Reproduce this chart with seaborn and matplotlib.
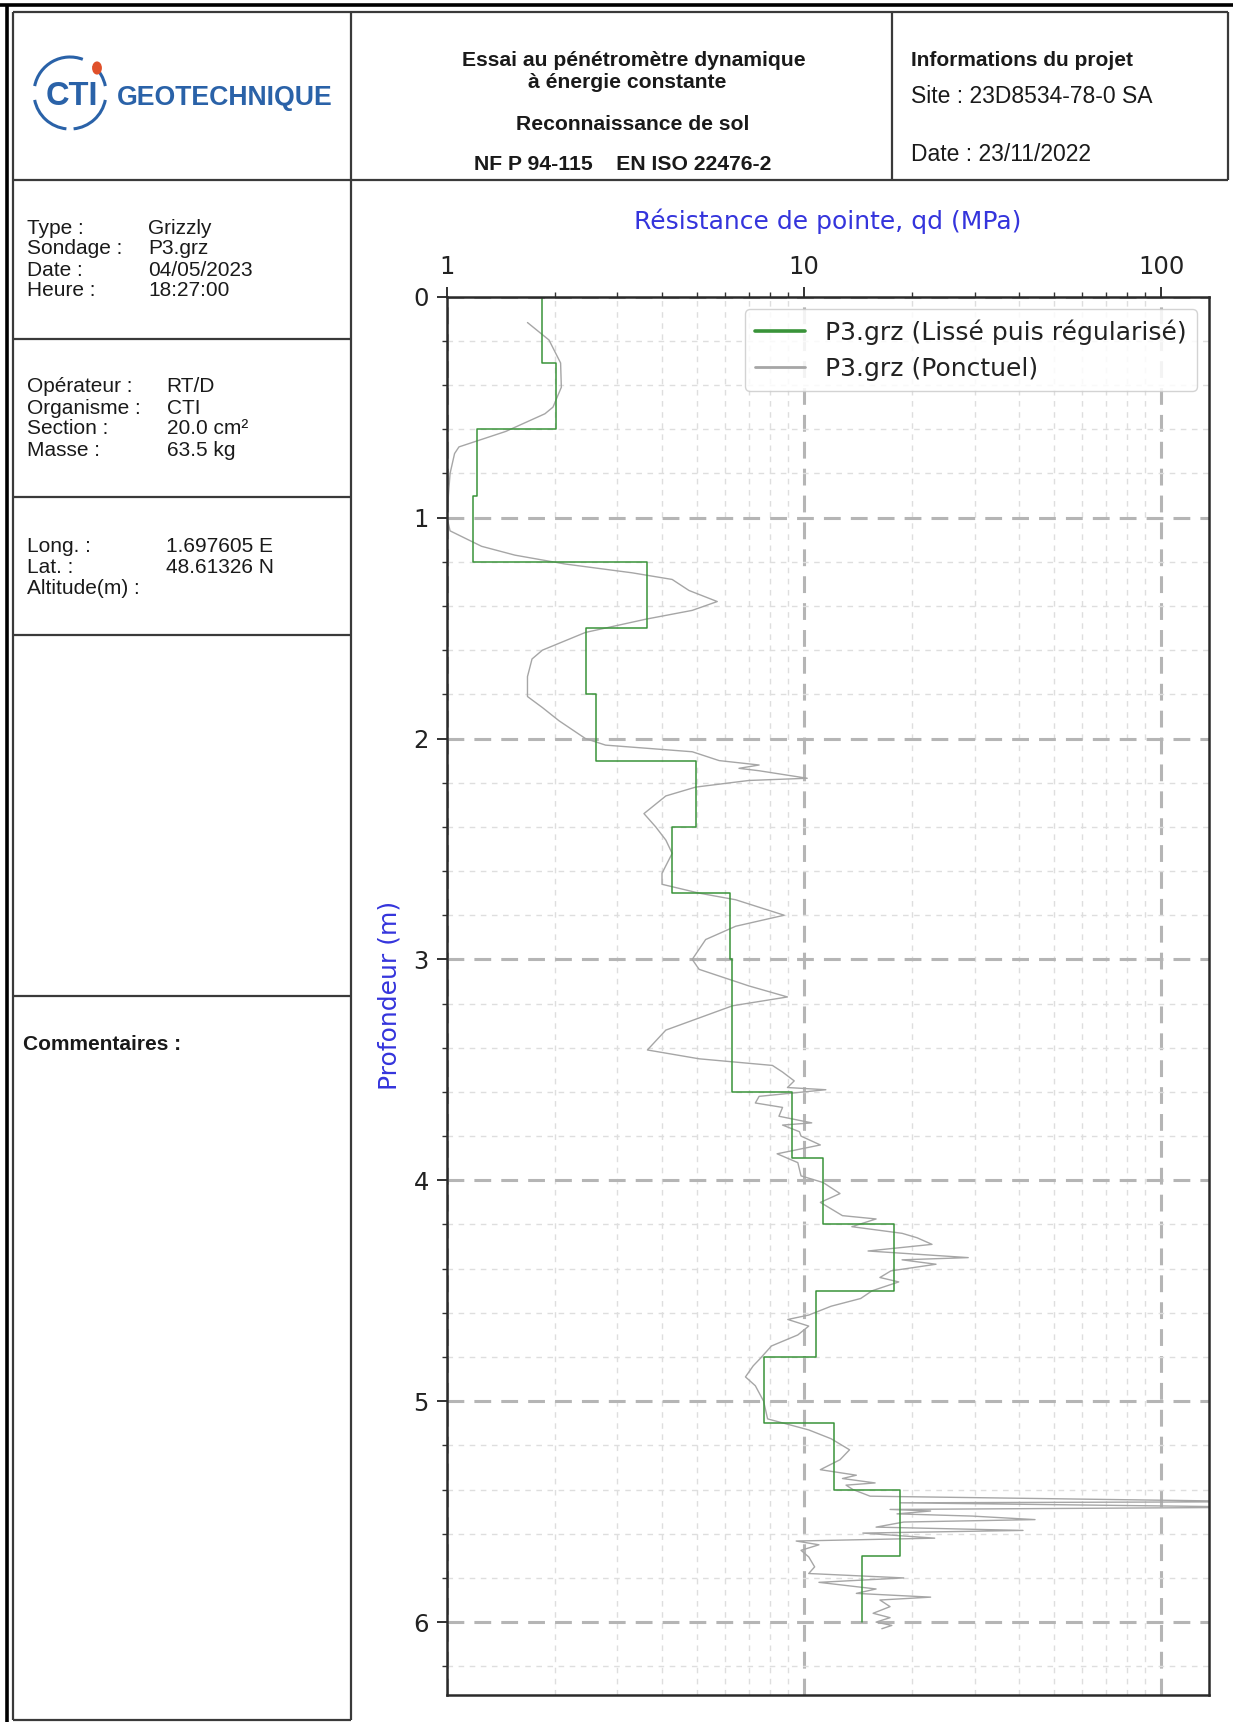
import numpy as np
import pandas as pd
import matplotlib
matplotlib.use("Agg")
import matplotlib.pyplot as plt
import seaborn as sns
from matplotlib.patches import Arc, Circle
from matplotlib.lines import Line2D
from matplotlib.ticker import FixedLocator, FixedFormatter, LogLocator, MultipleLocator, NullFormatter

# ---------------- data ----------------
# Smoothed & regularised profile (layers)
layer_top = [0.0, 0.3, 0.6, 0.9, 1.2, 1.5, 1.8, 2.1, 2.4, 2.7, 3.0, 3.6, 3.9, 4.2, 4.5, 4.8, 5.1, 5.4, 5.7]
layer_bottom = [0.3, 0.6, 0.9, 1.2, 1.5, 1.8, 2.1, 2.4, 2.7, 3.0, 3.6, 3.9, 4.2, 4.5, 4.8, 5.1, 5.4, 5.7, 6.0]
layer_qd = [1.85, 2.02, 1.21, 1.18, 3.64, 2.45, 2.62, 4.97, 4.27, 6.2, 6.3, 9.27, 11.3, 17.8, 10.8, 7.73, 12.1, 18.5, 14.5]

# Point-wise resistance (Ponctuel)
punct_depth = [0.117, 0.196, 0.30, 0.41, 0.50, 0.53, 0.61, 0.68, 0.71, 0.80, 0.89, 1.00, 1.06, 1.13, 1.17,
               1.21, 1.25, 1.28, 1.33, 1.38, 1.42, 1.46, 1.52, 1.60, 1.64, 1.72, 1.81, 1.86, 1.92, 2.00,
               2.03, 2.06, 2.10, 2.12, 2.135, 2.146, 2.18, 2.19, 2.22, 2.26, 2.34, 2.40, 2.46, 2.52, 2.61,
               2.66, 2.70, 2.73, 2.80, 2.85, 2.91, 3.00, 3.045, 3.12, 3.17, 3.21, 3.32, 3.41, 3.45, 3.48,
               3.51, 3.55, 3.58, 3.59, 3.62, 3.65, 3.67, 3.71, 3.74, 3.75, 3.78, 3.80, 3.84, 3.88, 3.92,
               3.98, 4.01, 4.06, 4.10, 4.16, 4.175, 4.21, 4.24, 4.26, 4.29, 4.32, 4.35, 4.36, 4.38, 4.41,
               4.44, 4.46, 4.50, 4.535, 4.57, 4.61, 4.63, 4.66, 4.70, 4.75, 4.81, 4.84, 4.89, 4.93, 5.00,
               5.08, 5.13, 5.17, 5.22, 5.265, 5.31, 5.335, 5.35, 5.37, 5.38, 5.40, 5.43, 5.455, 5.46, 5.48,
               5.49, 5.497, 5.51, 5.52, 5.536, 5.547, 5.57, 5.585, 5.597, 5.62, 5.633, 5.65, 5.675, 5.705, 5.75,
               5.78, 5.80, 5.82, 5.85, 5.87, 5.887, 5.90, 5.93, 5.96, 5.98, 6.00, 6.015, 6.03]
punct_qd = [1.68, 1.93, 2.08, 2.09, 1.98, 1.88, 1.46, 1.08, 1.05, 1.02, 1.01, 1.00, 1.02, 1.25, 1.55,
            2.14, 3.30, 4.27, 4.76, 5.71, 4.86, 3.60, 2.44, 1.85, 1.73, 1.68, 1.68, 1.85, 2.06, 2.44,
            2.78, 4.86, 5.78, 7.48, 6.57, 7.48, 10.2, 7.0, 4.97, 4.1, 3.56, 3.84, 4.1, 4.27, 4.0,
            4.0, 5.08, 6.43, 8.79, 6.43, 5.3, 4.86, 5.08, 7.0, 8.98, 6.3, 4.1, 3.64, 5.08, 8.15,
            8.7, 9.38, 8.98, 11.5, 7.48, 7.3, 8.7, 8.5, 10.5, 8.7, 9.7, 9.8, 11.1, 8.4, 9.6,
            9.8, 11.3, 12.6, 11.1, 12.8, 15.9, 13.6, 18.8, 20.7, 22.8, 15.1, 28.8, 18.8, 23.4, 17.5,
            16.3, 18.4, 15.5, 14.4, 11.9, 10.3, 9.0, 10.3, 9.6, 8.1, 7.5, 7.2, 6.85, 7.3, 7.7,
            7.9, 10.3, 11.9, 13.4, 12.6, 11.1, 14.0, 12.8, 15.8, 13.1, 13.7, 15.3, 200.0, 18.6, 200.0,
            17.4, 22.6, 18.2, 29.5, 44.3, 19.0, 15.9, 41.0, 14.6, 23.2, 9.5, 11.0, 9.8, 10.3, 10.7,
            10.3, 19.0, 11.0, 15.9, 14.0, 22.6, 16.3, 17.4, 15.6, 17.4, 15.9, 17.6, 16.5]

x_ticks = [1, 10, 100]
x_tick_labels = ["1", "10", "100"]
series_names = ["P3.grz (Lissé puis régularisé)", "P3.grz (Ponctuel)"]

# ---------------- style ----------------
sns.set_theme(style="white")
plt.rcParams["font.family"] = ["DejaVu Sans"]

W, H = 1233, 1722
fig = plt.figure(figsize=(W / 100, H / 100), dpi=100)


def fx(px):
    return px / W


def fy(py):
    return 1 - py / H


TABLE_FONT = ["Liberation Sans", "DejaVu Sans"]
LINE_C = "#3a3a3a"


def hline(x0, x1, y, lw=1.6, color=LINE_C):
    fig.add_artist(Line2D([fx(x0), fx(x1)], [fy(y), fy(y)], transform=fig.transFigure,
                          color=color, lw=lw, solid_capstyle="butt"))


def vline(x, y0, y1, lw=1.6, color=LINE_C):
    fig.add_artist(Line2D([fx(x), fx(x)], [fy(y0), fy(y1)], transform=fig.transFigure,
                          color=color, lw=lw, solid_capstyle="butt"))


def txt(x, y, s, size=15, weight="normal", ha="left", color="#1a1a1a", family=TABLE_FONT):
    fig.text(fx(x), fy(y), s, fontsize=size, fontweight=weight, ha=ha, va="center_baseline",
             color=color, family=family)


# outer page border
hline(0, W, 5, lw=2.6, color="black")
vline(7, 5, H, lw=2.6, color="black")

# header box
hline(12.7, 1228, 11.7)
hline(12.7, 1228, 180)
vline(12.7, 11.7, 180)
vline(1228, 11.7, 180)
vline(351, 11.7, 180)
vline(892, 11.7, 180)

# left column boxes
vline(12.7, 180, 1720)
vline(351, 180, 1720)
hline(12.7, 351, 1720)
for yy in [339, 497, 635, 996]:
    hline(12.7, 351, yy)

# logo
LOGO_C = "#2a62a8"
cx, cy, r = 70, 93, 36
for t1, t2 in [(62, 172), (188, 262), (278, 352), (8, 40)]:
    fig.add_artist(Arc((fx(cx), fy(cy)), 2 * r / W, 2 * r / H, theta1=t1, theta2=t2,
                       transform=fig.transFigure, color=LOGO_C, lw=2.2))
fig.add_artist(Circle((fx(97), fy(68)), 4.2 / W, transform=fig.transFigure, color="#e0502a"))
fig.text(fx(71.5), fy(93), "CTI", fontsize=23.5, fontweight="bold", ha="center",
         va="center_baseline", color=LOGO_C, family=TABLE_FONT)
fig.text(fx(117), fy(95), "GEOTECHNIQUE", fontsize=19.2, fontweight="bold", ha="left",
         va="center_baseline", color=LOGO_C, family=TABLE_FONT)

# header middle
txt(634, 58, "Essai au pénétromètre dynamique", size=15.2, weight="bold", ha="center")
txt(627, 81, "à énergie constante", size=15.2, weight="bold", ha="center")
txt(633, 123, "Reconnaissance de sol", size=15.2, weight="bold", ha="center")
txt(623, 163, "NF P 94-115    EN ISO 22476-2", size=15.2, weight="bold", ha="center")

# header right
txt(911, 58, "Informations du projet", size=15, weight="bold")
txt(911, 94, "Site : 23D8534-78-0 SA", size=16.5)
txt(911, 152, "Date : 23/11/2022", size=16.5)

# left column texts
rows1 = [("Type :", "Grizzly"), ("Sondage :", "P3.grz"), ("Date :", "04/05/2023"), ("Heure :", "18:27:00")]
for (lab, val), yy in zip(rows1, [226, 247, 268, 289]):
    txt(26.7, yy, lab)
    txt(148, yy, val)
rows2 = [("Opérateur :", "RT/D"), ("Organisme :", "CTI"), ("Section :", "20.0 cm²"), ("Masse :", "63.5 kg")]
for (lab, val), yy in zip(rows2, [385, 406, 427, 448]):
    txt(26.7, yy, lab)
    txt(166.7, yy, val)
rows3 = [("Long. :", "1.697605 E"), ("Lat. :", "48.61326 N"), ("Altitude(m) :", "")]
for (lab, val), yy in zip(rows3, [545, 565.5, 586]):
    txt(26.7, yy, lab)
    if val:
        txt(165.7, yy, val)
txt(23.3, 1042, "Commentaires :", weight="bold")

# ---------------- chart ----------------
ax = fig.add_axes([fx(447), fy(1695), fx(1209) - fx(447), fy(296.7) - fy(1695)])

step_x, step_y = [], []
for t, b, v in zip(layer_top, layer_bottom, layer_qd):
    step_x += [v, v]
    step_y += [t, b]

df_p = pd.DataFrame({"qd": punct_qd, "depth": punct_depth})
df_s = pd.DataFrame({"qd": step_x, "depth": step_y})

sns.lineplot(data=df_p, x="qd", y="depth", sort=False, estimator=None, orient="y",
             color="#a6a6a6", lw=1.0, ax=ax)
gray_line = ax.lines[-1]
sns.lineplot(data=df_s, x="qd", y="depth", sort=False, estimator=None, orient="y",
             color="#399339", lw=1.1, ax=ax)
green_line = ax.lines[-1]

ax.set_xscale("log")
ax.set_xlim(1, 136)
ax.set_ylim(6.33, 0)

ax.xaxis.set_major_locator(FixedLocator(x_ticks))
ax.xaxis.set_major_formatter(FixedFormatter(x_tick_labels))
ax.xaxis.set_minor_locator(LogLocator(base=10, subs=np.arange(2, 10)))
ax.xaxis.set_minor_formatter(NullFormatter())
ax.yaxis.set_major_locator(MultipleLocator(1))
ax.yaxis.set_minor_locator(MultipleLocator(0.2))

ax.xaxis.tick_top()
ax.xaxis.set_label_position("top")
ax.tick_params(axis="x", which="both", top=True, bottom=False, labeltop=True, labelbottom=False)
ax.tick_params(axis="y", which="both", left=True, right=False)
ax.tick_params(which="major", length=7, width=1.3, color="#222222", labelsize=17.5,
               labelcolor="#222222", pad=6)
ax.tick_params(which="minor", length=3.5, width=1.0, color="#333333")

ax.set_axisbelow(True)
ax.grid(which="major", color="#b5b5b5", lw=2.2, ls=(0, (5.5, 3.3)))
ax.grid(which="minor", color="#dedede", lw=1.0, ls=(0, (4, 4)))

for sp in ax.spines.values():
    sp.set_color("#2a2a2a")
    sp.set_linewidth(1.8)

LABEL_BLUE = "#3434dc"
ax.set_xlabel("Résistance de pointe, qd (MPa)", color=LABEL_BLUE, fontsize=18)
ax.xaxis.set_label_coords(0.5, 1.0484)
ax.set_ylabel("Profondeur (m)", color=LABEL_BLUE, fontsize=18)
ax.yaxis.set_label_coords(-0.06, 0.5)

green_line.set_label(series_names[0])
gray_line.set_label(series_names[1])
leg = ax.legend(handles=[green_line, gray_line], loc="upper right", fontsize=18,
                frameon=True, fancybox=True, framealpha=0.85, edgecolor="#cccccc")
for h, lw in zip(leg.get_lines(), [2.6, 2.0]):
    h.set_linewidth(lw)
for t in leg.get_texts():
    t.set_color("#222222")

fig.savefig("out.png", dpi=100)
